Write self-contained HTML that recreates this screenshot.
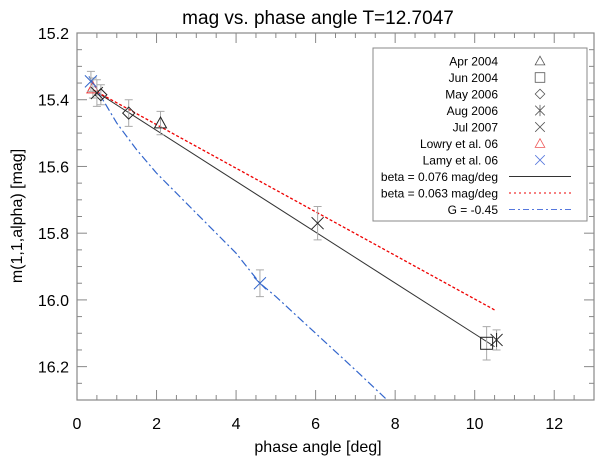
<!DOCTYPE html>
<html><head><meta charset="utf-8"><style>
html,body{margin:0;padding:0;background:#fff;}
svg text{font-family:"Liberation Sans",sans-serif;}
</style></head><body>
<svg id="c" width="600" height="465" viewBox="0 0 600 465" xmlns="http://www.w3.org/2000/svg">
<text x="318" y="24" font-size="19" text-anchor="middle">mag vs. phase angle T=12.7047</text>
<text x="318" y="452" font-size="16" text-anchor="middle">phase angle [deg]</text>
<text transform="translate(22,216) rotate(-90)" font-size="16" text-anchor="middle">m(1,1,alpha) [mag]</text>
<g id="axes"></g><g id="lines"></g><g id="pts"></g><g id="legend"></g>
</svg>
<script>
const xTicks=[0,2,4,6,8,10,12];
const yTicks=[15.2,15.4,15.6,15.8,16.0,16.2];
const yTickLabels=["15.2","15.4","15.6","15.8","16.0","16.2"];
// points: [phase, mag, err]
const apr2004=[[2.1,15.47,0.035]];
const jun2004=[[10.3,16.13,0.05]];
const may2006=[[0.6,15.385,0.03],[1.3,15.44,0.04]];
const aug2006=[[10.55,16.12,0.03]];
const jul2007=[[0.5,15.38,0.04],[6.05,15.77,0.05]];
const lowry=[[0.4,15.365,0.03]];
const lamy=[[0.35,15.345,0.03],[4.6,15.95,0.04]];
const fit076X=[0.4,10.5];
const fit076Y=[15.37,16.14];
const fit063X=[0.4,10.5];
const fit063Y=[15.37,16.03];
const gX=[0.3,1,1.5,2,3,4,4.6,5,6,7,7.8];
const gY=[15.33,15.47,15.55,15.62,15.74,15.86,15.95,15.99,16.1,16.21,16.3];

const L=77,R=594,T=33,B=400,X0=0,X1=13,Y0=15.2,Y1=16.3;
const sx=v=>L+(v-X0)/(X1-X0)*(R-L);
const sy=v=>T+(v-Y0)/(Y1-Y0)*(B-T);
const NS="http://www.w3.org/2000/svg";
function mk(t,a,p){const e=document.createElementNS(NS,t);for(const k in a)e.setAttribute(k,a[k]);p.appendChild(e);return e;}
const ax=document.getElementById('axes');
const frame=mk('rect',{x:L,y:T,width:R-L,height:B-T,fill:'none',stroke:'#888','stroke-width':1.2},ax);


for(let v=0;v<=13.001;v+=0.5){const big=Math.abs(v-Math.round(v/2)*2)<1e-6;const l=big?10:5;
 mk('line',{x1:sx(v),x2:sx(v),y1:B,y2:B-l,stroke:'#888'},ax);mk('line',{x1:sx(v),x2:sx(v),y1:T,y2:T+l,stroke:'#888'},ax);}
for(let v=15.2;v<=16.301;v+=0.05){const big=Math.abs(v*5-Math.round(v*5))<1e-6;const l=big?10:5;
 mk('line',{x1:L,x2:L+l,y1:sy(v),y2:sy(v),stroke:'#888'},ax);mk('line',{x1:R,x2:R-l,y1:sy(v),y2:sy(v),stroke:'#888'},ax);}
xTicks.forEach(v=>{const t=mk('text',{x:sx(v),y:B+29,'font-size':16,'text-anchor':'middle'},ax);t.textContent=v;

});
yTicks.forEach((v,i)=>{const t=mk('text',{x:L-8,y:sy(v)+6,'font-size':16,'text-anchor':'end'},ax);t.textContent=yTickLabels[i];

});
const ln=document.getElementById('lines');
function poly(xs,ys,st,name){const d=xs.map((x,i)=>sx(x)+','+sy(ys[i])).join(' ');const p=mk('polyline',Object.assign({points:d,fill:'none'},st),ln);

}
poly(fit076X,fit076Y,{stroke:'#333','stroke-width':1},'fit-line-076');
poly(fit063X,fit063Y,{stroke:'#e00','stroke-width':1.3,'stroke-dasharray':'3,2'},'fit-line-063');
poly(gX,gY,{stroke:'#36c','stroke-width':1.2,'stroke-dasharray':'8,3,2,3'},'g-curve');
function sym(g,type,x,y,c){const s=6;
 if(type==='tri')mk('polygon',{points:`${x},${y-s} ${x-s},${y+s*0.8} ${x+s},${y+s*0.8}`,fill:'none',stroke:c},g);
 else if(type==='sq')mk('rect',{x:x-s,y:y-s,width:2*s,height:2*s,fill:'none',stroke:c},g);
 else if(type==='dia')mk('polygon',{points:`${x},${y-s} ${x+s},${y} ${x},${y+s} ${x-s},${y}`,fill:'none',stroke:c},g);
 else {mk('path',{d:`M${x-s} ${y-s}L${x+s} ${y+s}M${x-s} ${y+s}L${x+s} ${y-s}`,stroke:c},g);
  if(type==='ast')mk('path',{d:`M${x} ${y-s-1}L${x} ${y+s+1}`,stroke:c},g);}}
const pg=document.getElementById('pts');
function series(arr,type,c,name){arr.forEach(p=>{const g=mk('g',{},pg);
 
 
 const x=sx(p[0]),y1=sy(p[1]-p[2]),y2=sy(p[1]+p[2]);
 mk('path',{d:`M${x} ${y1}L${x} ${y2}M${x-4} ${y1}L${x+4} ${y1}M${x-4} ${y2}L${x+4} ${y2}`,stroke:'#aaa'},g);
 sym(g,type,x,sy(p[1]),c);});}
series(lowry,'tri','#e33','lowry-point');
series(lamy,'x','#36c','lamy-point');
series(apr2004,'tri','#222','apr2004-point');
series(jun2004,'sq','#222','jun2004-point');
series(may2006,'dia','#222','may2006-point');
series(aug2006,'ast','#222','aug2006-point');
series(jul2007,'x','#222','jul2007-point');
const lg=document.getElementById('legend');


mk('rect',{x:373,y:48,width:214,height:173,fill:'#fff',stroke:'#888'},lg);
const entries=[["Apr 2004","tri","#555"],["Jun 2004","sq","#555"],["May 2006","dia","#555"],["Aug 2006","ast","#555"],["Jul 2007","x","#555"],["Lowry et al. 06","tri","#e55"],["Lamy et al. 06","x","#57d"],["beta = 0.076 mag/deg","l1"],["beta = 0.063 mag/deg","l2"],["G = -0.45","l3"]];
entries.forEach((e,i)=>{const y=61+i*16.5;const g=mk('g',{},lg);
 
 
 const t=mk('text',{x:498,y:y+4.5,'font-size':12,'text-anchor':'end'},g);t.textContent=e[0];
 if(e[1]==='l1')mk('line',{x1:509,x2:571,y1:y,y2:y,stroke:'#333'},g);
 else if(e[1]==='l2')mk('line',{x1:509,x2:571,y1:y,y2:y,stroke:'#e00','stroke-dasharray':'2,3'},g);
 else if(e[1]==='l3')mk('line',{x1:509,x2:571,y1:y,y2:y,stroke:'#57d','stroke-dasharray':'6,3,2,3'},g);
 else {const s=mk('g',{transform:`translate(540,${y}) scale(0.8) translate(-540,${-y})`},g);sym(s,e[1],540,y,e[2]);}
});
</script>
</body></html>
